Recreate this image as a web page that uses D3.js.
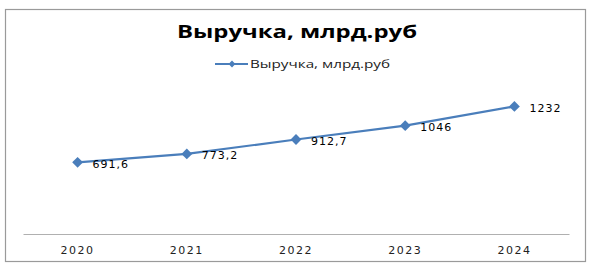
<!DOCTYPE html>
<html>
<head>
<meta charset="utf-8">
<script src="https://cdn.jsdelivr.net/npm/d3@7"></script>
<style>
body { margin: 0; background: #fff; }
</style>
</head>
<body>
<svg width="592" height="271"></svg>
<script>
var years = ["2020", "2021", "2022", "2023", "2024"];
var revenue = [691.6, 773.2, 912.7, 1046, 1232];
var labels = ["691,6", "773,2", "912,7", "1046", "1232"];
var seriesName = "Выручка, млрд.руб";

var svg = d3.select("svg");

// chart frame
svg.append("rect")
  .attr("x", 5.5).attr("y", 9.5)
  .attr("width", 580).attr("height", 252)
  .attr("fill", "#fff")
  .attr("stroke", "#9a9a9a")
  .attr("stroke-width", 1.2);

// title (reference is stretched wide)
svg.append("text")
  .attr("x", 177).attr("y", 38)
  .attr("textLength", 240)
  .attr("lengthAdjust", "spacingAndGlyphs")
  .style("font", "bold 18px 'Open Sans', 'DejaVu Sans', sans-serif")
  .attr("fill", "#000")
  .text(seriesName);

var x = d3.scaleBand().domain(years).range([23, 569]),
    y = d3.scaleLinear().domain([0, 1400]).range([234, 89]);

var data = years.map(function(d, i) { return {year: d, value: revenue[i], label: labels[i]}; });

// category axis
var xAxis = svg.append("g")
  .attr("transform", "translate(0,234)")
  .call(d3.axisBottom(x).tickSize(0).tickPadding(10));
xAxis.select(".domain").attr("stroke", "#b0b0b0");
xAxis.selectAll("text")
  .style("font", "11px 'DejaVu Sans', sans-serif")
  .style("letter-spacing", "1.5px")
  .attr("fill", "#222")
  .attr("dy", "0.95em");

var line = d3.line()
  .x(function(d) { return x(d.year) + x.bandwidth() / 2; })
  .y(function(d) { return y(d.value); });

var color = "#4a7ebb";

svg.append("path")
  .datum(data)
  .attr("fill", "none")
  .attr("stroke", color)
  .attr("stroke-width", 2.2)
  .attr("d", line);

var diamond = d3.symbol().type(d3.symbolDiamond2).size(75);

svg.selectAll(".pt")
  .data(data)
  .enter().append("path")
  .attr("class", "pt")
  .attr("transform", function(d) { return "translate(" + (x(d.year) + x.bandwidth() / 2) + "," + y(d.value) + ")"; })
  .attr("d", diamond)
  .attr("fill", color);

svg.selectAll(".lbl")
  .data(data)
  .enter().append("text")
  .attr("class", "lbl")
  .attr("x", function(d) { return x(d.year) + x.bandwidth() / 2 + 15; })
  .attr("y", function(d) { return y(d.value); })
  .attr("dy", "0.5em")
  .style("font", "11px 'DejaVu Sans', sans-serif")
  .style("letter-spacing", "1px")
  .attr("fill", "#000")
  .text(function(d) { return d.label; });

// legend
var lg = svg.append("g").attr("transform", "translate(215,64)");
lg.append("line")
  .attr("x1", 0).attr("x2", 33)
  .attr("stroke", color).attr("stroke-width", 2.2);
lg.append("path")
  .attr("transform", "translate(17,0)")
  .attr("d", d3.symbol().type(d3.symbolDiamond2).size(30))
  .attr("fill", color);
lg.append("text")
  .attr("x", 35).attr("dy", "0.35em")
  .attr("textLength", 140)
  .attr("lengthAdjust", "spacingAndGlyphs")
  .style("font", "11px 'Open Sans', 'DejaVu Sans', sans-serif")
  .attr("fill", "#222")
  .text(seriesName);
</script>
</body>
</html>
